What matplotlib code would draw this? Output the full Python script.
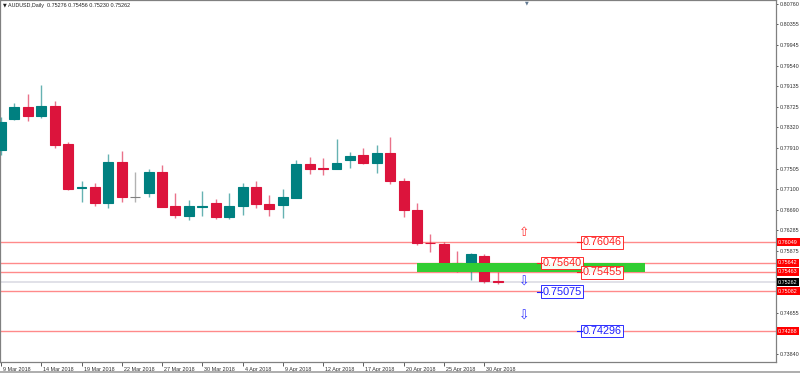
import matplotlib
matplotlib.use("Agg")
import matplotlib.pyplot as plt
from matplotlib.lines import Line2D
from matplotlib.transforms import ScaledTranslation

# ---------------- data ----------------
opens = [0.77874, 0.78480, 0.78730, 0.78546, 0.78743, 0.77986, 0.77130, 0.77136,
         0.76820, 0.77630, 0.76938, 0.77018, 0.77433, 0.76766, 0.76569, 0.76750,
         0.76832, 0.76543, 0.76766, 0.77136, 0.76806, 0.76786, 0.76931, 0.77591,
         0.77524, 0.77498, 0.77676, 0.77775, 0.77611, 0.77820, 0.77261, 0.76687,
         0.76041, 0.76015, 0.75634, 0.75515, 0.75778, 0.75276]
highs = [0.78526, 0.78797, 0.78975, 0.79159, 0.78848, 0.78038, 0.77261, 0.77215,
         0.77794, 0.77854, 0.77445, 0.77498, 0.77577, 0.77018, 0.76885, 0.77063,
         0.76905, 0.77018, 0.77215, 0.77261, 0.76984, 0.77097, 0.77676, 0.77729,
         0.77710, 0.78091, 0.77828, 0.77907, 0.77972, 0.78125, 0.77314, 0.76820,
         0.76213, 0.76061, 0.75877, 0.75831, 0.75820, 0.75456]
lows = [0.77775, 0.78470, 0.78453, 0.78500, 0.77919, 0.77083, 0.76852, 0.76773,
        0.76721, 0.76852, 0.76852, 0.76938, 0.76741, 0.76523, 0.76490, 0.76569,
        0.76504, 0.76504, 0.76589, 0.76733, 0.76569, 0.76523, 0.76920, 0.77393,
        0.77379, 0.77490, 0.77512, 0.77591, 0.77425, 0.77196, 0.76543, 0.75995,
        0.75857, 0.75515, 0.75468, 0.75304, 0.75250, 0.75230]
closes = [0.78427, 0.78718, 0.78546, 0.78743, 0.77972, 0.77097, 0.77140, 0.76820,
          0.77630, 0.76938, 0.76938, 0.77445, 0.76753, 0.76589, 0.76766, 0.76770,
          0.76555, 0.76766, 0.77136, 0.76806, 0.76701, 0.76938, 0.77591, 0.77492,
          0.77504, 0.77611, 0.77761, 0.77611, 0.77808, 0.77267, 0.76687, 0.76029,
          0.76031, 0.75634, 0.75521, 0.75811, 0.75276, 0.75262]

date_labels = ['9 Mar 2018', '14 Mar 2018', '19 Mar 2018', '22 Mar 2018', '27 Mar 2018',
               '30 Mar 2018', '4 Apr 2018', '9 Apr 2018', '12 Apr 2018', '17 Apr 2018',
               '20 Apr 2018', '25 Apr 2018', '30 Apr 2018']
label_step = 3

price_ticks = [0.80760, 0.80355, 0.79945, 0.79540, 0.79135, 0.78725, 0.78320, 0.77910,
               0.77505, 0.77100, 0.76690, 0.76285, 0.75875, 0.74655, 0.73840]

level_lines = [0.76049, 0.75642, 0.75463, 0.75082, 0.74288]
bid_price = 0.75262
zone_low, zone_high = 0.75455, 0.75640
zone_start, zone_end = 31, 48

note_values = [0.76046, 0.75640, 0.75455, 0.75075, 0.74296]
note_colors = ['#FF2020', '#FF2020', '#FF2020', '#2020FF', '#2020FF']
note_x = [43.35, 40.37, 43.35, 40.37, 43.35]

arrow_x = [39, 39, 39]
arrow_y = [0.76252, 0.75264, 0.74592]
arrow_glyph = ['\u21E7', '\u21E9', '\u21E9']
arrow_colors = ['#FF3030', '#3030FF', '#3030FF']

title = 'AUDUSD,Daily  0.75276 0.75456 0.75230 0.75262'

# ---------------- style ----------------
BULL = '#008080'
BEAR = '#DC143C'
DOJI = '#808080'
GRID = '#808080'
LINE_RED = '#FF8A8A'

plt.rcParams['font.family'] = ['Liberation Sans', 'DejaVu Sans']

fig = plt.figure(figsize=(8, 3.73), dpi=100)
W, H = 800, 373
ax = fig.add_axes([0, (H - 362) / H, 776 / W, 362 / H])

n = len(opens)
xs = list(range(n))
colors = []
for o, c in zip(opens, closes):
    if c > o:
        colors.append(BULL)
    elif c < o:
        colors.append(BEAR)
    else:
        colors.append(DOJI)

# wicks
ax.vlines(xs, lows, highs, colors=colors, linewidth=1.0, alpha=0.6, zorder=3)
# bodies
bottoms = [min(o, c) for o, c in zip(opens, closes)]
heights = [abs(c - o) for o, c in zip(opens, closes)]
ax.bar(xs, heights, bottom=bottoms, width=0.74, color=colors,
       edgecolor=colors, linewidth=0.8, zorder=4)

# horizontal levels
for v in level_lines:
    ax.axhline(v, color=LINE_RED, linewidth=1.0, zorder=2)
ax.axhline(bid_price, color='#DCDCE4', linewidth=1.2, zorder=1)

# green zone
ax.fill_between([zone_start, zone_end], zone_low, zone_high, color='#32CD32',
                linewidth=0, zorder=5)

# notes
for v, c, x in zip(note_values, note_colors, note_x):
    ax.text(x, v, f'{v:.5f}', color=c, fontsize=7.8, ha='left', va='center',
            zorder=7,
            bbox=dict(boxstyle='square,pad=0.12', fc='white', ec=c, lw=0.7, alpha=0.95))
    ax.plot([x - 0.45, x - 0.05], [v, v], color=c, lw=0.8, zorder=7)

# arrows
for x, y, g, c in zip(arrow_x, arrow_y, arrow_glyph, arrow_colors):
    ax.text(x, y, g, color=c, fontsize=9, ha='center', va='center',
            family='DejaVu Sans', zorder=7)

# axes limits
px = 13.42
ax.set_xlim(-1 / px, (776 - 1) / px)
ypx = 0.0001977
ax.set_ylim(0.80760 - 358 * ypx, 0.80760 + 4 * ypx)

# spines
for s in ax.spines.values():
    s.set_color(GRID)
    s.set_linewidth(0.9)

# y axis on right
ax.yaxis.tick_right()
ax.set_yticks(price_ticks)
ax.set_yticklabels([f'{v:.5f}' for v in price_ticks])
ax.tick_params(axis='y', labelsize=3.9, length=1.5, width=0.6, color='#404040',
               pad=1.0, labelcolor='#303030')

# x axis
tick_pos = list(range(0, label_step * len(date_labels), label_step))
ax.set_xticks(tick_pos)
ax.set_xticklabels(date_labels)
ax.tick_params(axis='x', labelsize=3.9, length=3, width=0.6, color='#404040',
               pad=0.5, labelcolor='#303030')
offset = ScaledTranslation(1.5 / 72, 0, fig.dpi_scale_trans)
for lbl in ax.get_xticklabels():
    lbl.set_ha('left')
    lbl.set_transform(lbl.get_transform() + offset)

# price boxes on right axis
ytrans = ax.get_yaxis_transform()
for v in level_lines:
    ax.annotate(f'{v:.5f}', xy=(1, v), xycoords=ytrans, xytext=(1.6, 0),
                textcoords='offset points', ha='left', va='center', fontsize=3.9,
                color='white', annotation_clip=False,
                bbox=dict(boxstyle='square,pad=0.3', fc='#FF0000', ec='none'))
ax.annotate(f'{bid_price:.5f}', xy=(1, bid_price), xycoords=ytrans, xytext=(1.6, 0),
            textcoords='offset points', ha='left', va='center', fontsize=3.9,
            color='white', annotation_clip=False,
            bbox=dict(boxstyle='square,pad=0.3', fc='#000000', ec='none'))

# title
fig.text(3 / W, 1 - 5 / H, '\u25BC', fontsize=3.5, ha='left', va='center',
         color='#202020', family='DejaVu Sans')
fig.text(8 / W, 1 - 5 / H, title, fontsize=3.9, ha='left', va='center', color='#202020')
# chart shift marker
fig.text(527 / W, 1 - 2.5 / H, '\u25BC', fontsize=3.5, ha='center', va='center',
         color='#607890', family='DejaVu Sans')

# figure bottom border
fig.add_artist(Line2D([0, 1], [0.8 / H, 0.8 / H], color='#A0A0A0', lw=1.2,
                      transform=fig.transFigure))

fig.savefig('out.png', dpi=100)
